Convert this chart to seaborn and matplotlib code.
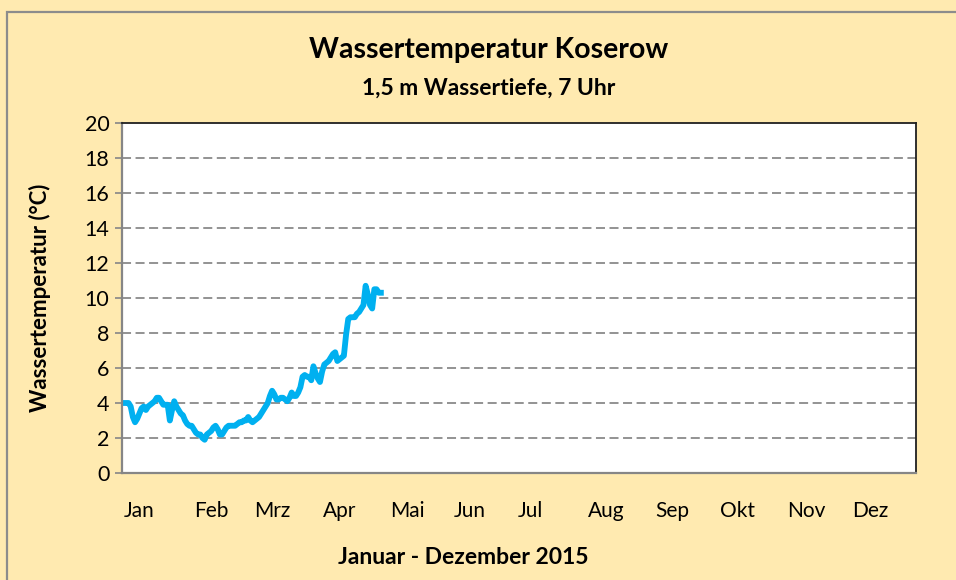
import numpy as np
import pandas as pd
import seaborn as sns
import matplotlib.pyplot as plt
from matplotlib.patches import Rectangle

# daily water temperature at 7:00, 1 Jan - 30 Apr 2015
temp = [4.0, 4.0, 4.0, 4.0, 3.8, 3.2, 2.9, 3.1, 3.4, 3.7,
        3.8, 3.6, 3.8, 3.9, 4.0, 4.1, 4.3, 4.3, 4.1, 3.9,
        3.9, 3.9, 3.0, 3.6, 4.1, 3.8, 3.6, 3.4, 3.3, 3.0,
        2.8, 2.7, 2.7, 2.5, 2.3, 2.2, 2.2, 2.0, 1.9, 2.2,
        2.3, 2.4, 2.6, 2.7, 2.5, 2.2, 2.2, 2.4, 2.6, 2.7,
        2.7, 2.7, 2.7, 2.8, 2.9, 2.9, 3.0, 3.0, 3.2, 3.0,
        2.9, 3.0, 3.1, 3.2, 3.4, 3.6, 3.8, 4.0, 4.4, 4.7,
        4.5, 4.2, 4.2, 4.3, 4.3, 4.2, 4.1, 4.3, 4.6, 4.4,
        4.4, 4.6, 4.9, 5.5, 5.6, 5.5, 5.5, 5.3, 6.1, 5.7,
        5.4, 5.2, 5.8, 6.2, 6.3, 6.4, 6.6, 6.8, 6.9, 6.4,
        6.5, 6.6, 6.7, 7.9, 8.8, 8.9, 8.9, 8.9, 9.1, 9.2,
        9.4, 9.6, 10.7, 10.2, 9.6, 9.4, 10.5, 10.5, 10.3, 10.3]
dates = pd.date_range('2015-01-01', periods=len(temp), freq='D')

months = ['Jan', 'Feb', 'Mrz', 'Apr', 'Mai', 'Jun', 'Jul', 'Aug', 'Sep', 'Okt', 'Nov', 'Dez']
month_label_day = [8, 41, 69, 100, 131, 160, 188, 222.5, 253, 283, 314.5, 344]

df = pd.DataFrame({'day': (dates - dates[0]).days, 'temp': temp})

bg = '#FFEAB0'
plt.rcParams['font.family'] = ['Lato', 'DejaVu Sans']

fig = plt.figure(figsize=(9.56, 5.8), dpi=100, facecolor=bg)
fig.patches.append(Rectangle((7 / 956, -0.1), 1.2, (580 - 12) / 580 + 0.1,
                             transform=fig.transFigure, fill=False,
                             edgecolor='#8c8c8c', lw=1.6))
ax = fig.add_axes([122 / 956, 107 / 580, 794 / 956, 350 / 580])
ax.set_facecolor('white')

sns.lineplot(data=df, x='day', y='temp', ax=ax, color='#00B0F0', lw=4.2)

ax.set_xlim(0, 365)
ax.set_ylim(0, 20)
ax.set_yticks(range(0, 21, 2))
ax.set_xticks(month_label_day)
ax.set_xticklabels(months)
ax.tick_params(axis='x', length=0, pad=20, labelsize=15)
ax.tick_params(axis='y', length=5, width=1.2, color='#868686', pad=4, labelsize=15.5)
for y in range(2, 20, 2):
    ax.axhline(y, color='#8a8a8a', lw=1.3, ls=(0, (5, 2.5)), zorder=0)
ax.set_xlabel('')
ax.set_ylabel('Wassertemperatur (°C)', fontsize=16, fontweight='bold', labelpad=24)

for s in ['top', 'right']:
    ax.spines[s].set_color('#202020')
    ax.spines[s].set_linewidth(1.3)
for s in ['left', 'bottom']:
    ax.spines[s].set_color('#868686')
    ax.spines[s].set_linewidth(1.6)

fig.text(489 / 956, 1 - 50 / 580, 'Wassertemperatur Koserow', ha='center', va='center',
         fontsize=20.5, fontweight='bold')
fig.text(489 / 956, 1 - 88 / 580, '1,5 m Wassertiefe, 7 Uhr', ha='center', va='center',
         fontsize=16.5, fontweight='bold')
fig.text(463 / 956, 1 - 558 / 580, 'Januar - Dezember 2015', ha='center', va='center',
         fontsize=16.5, fontweight='bold')

fig.savefig('out.png', dpi=100, facecolor=bg)
